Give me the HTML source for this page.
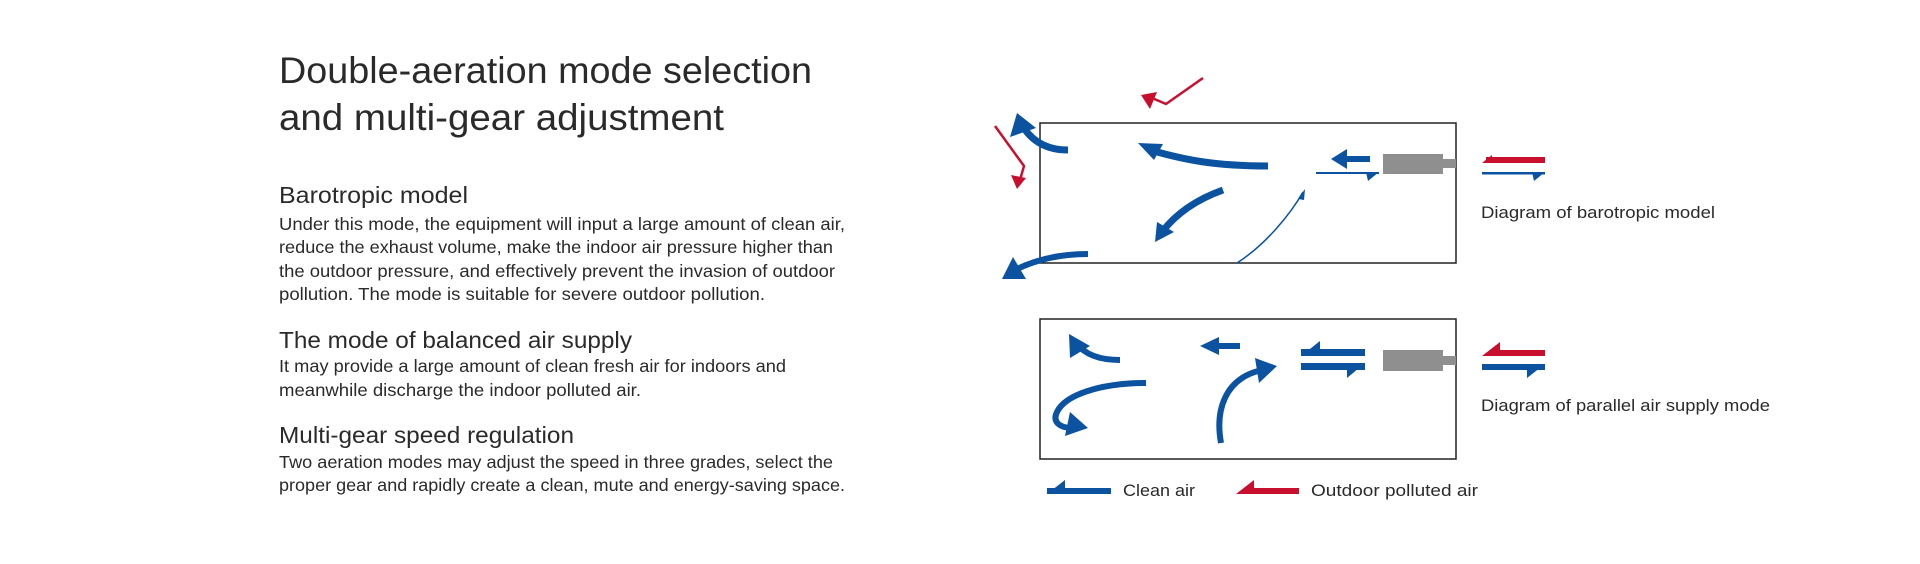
<!DOCTYPE html>
<html><head><meta charset="utf-8"><style>
html,body{margin:0;padding:0;background:#fff;}
svg{display:block;}
text{font-family:"Liberation Sans",sans-serif;fill:#2a2a2a;}
</style></head><body>
<svg width="1920" height="564" viewBox="0 0 1920 564" xmlns="http://www.w3.org/2000/svg">
<g>
<text x="279" y="83" font-size="37" textLength="533" lengthAdjust="spacingAndGlyphs">Double-aeration mode selection</text>
<text x="279" y="130" font-size="37" textLength="445" lengthAdjust="spacingAndGlyphs">and multi-gear adjustment</text>
<text x="279" y="203" font-size="23" textLength="189" lengthAdjust="spacingAndGlyphs">Barotropic model</text>
<text x="279" y="230" font-size="17.5" textLength="566" lengthAdjust="spacingAndGlyphs">Under this mode, the equipment will input a large amount of clean air,</text>
<text x="279" y="253" font-size="17.5" textLength="554" lengthAdjust="spacingAndGlyphs">reduce the exhaust volume, make the indoor air pressure higher than</text>
<text x="279" y="277" font-size="17.5" textLength="556" lengthAdjust="spacingAndGlyphs">the outdoor pressure, and effectively prevent the invasion of outdoor</text>
<text x="279" y="300" font-size="17.5" textLength="486" lengthAdjust="spacingAndGlyphs">pollution. The mode is suitable for severe outdoor pollution.</text>
<text x="279" y="348" font-size="23" textLength="353" lengthAdjust="spacingAndGlyphs">The mode of balanced air supply</text>
<text x="279" y="372" font-size="17.5" textLength="507" lengthAdjust="spacingAndGlyphs">It may provide a large amount of clean fresh air for indoors and</text>
<text x="279" y="396" font-size="17.5" textLength="362" lengthAdjust="spacingAndGlyphs">meanwhile discharge the indoor polluted air.</text>
<text x="279" y="443" font-size="23" textLength="295" lengthAdjust="spacingAndGlyphs">Multi-gear speed regulation</text>
<text x="279" y="468" font-size="17.5" textLength="554" lengthAdjust="spacingAndGlyphs">Two aeration modes may adjust the speed in three grades, select the</text>
<text x="279" y="491" font-size="17.5" textLength="566" lengthAdjust="spacingAndGlyphs">proper gear and rapidly create a clean, mute and energy-saving space.</text>

<text x="1481" y="218" font-size="17" textLength="234" lengthAdjust="spacingAndGlyphs">Diagram of barotropic model</text>
<text x="1481" y="411" font-size="17" textLength="289" lengthAdjust="spacingAndGlyphs">Diagram of parallel air supply mode</text>
<text x="1123" y="496" font-size="17" textLength="72" lengthAdjust="spacingAndGlyphs">Clean air</text>
<text x="1311" y="496" font-size="17" textLength="167" lengthAdjust="spacingAndGlyphs">Outdoor polluted air</text>
</g>

<rect x="1040" y="123" width="416" height="140" fill="none" stroke="#222" stroke-width="1.5"/>
<rect x="1040" y="319" width="416" height="140" fill="none" stroke="#222" stroke-width="1.5"/>
<rect x="1383" y="154" width="60" height="20" fill="#8f8f8f"/>
<rect x="1443" y="159" width="13" height="9" fill="#8f8f8f"/>
<rect x="1383" y="350" width="60" height="21" fill="#8f8f8f"/>
<rect x="1443" y="356" width="13" height="9" fill="#8f8f8f"/>

<g fill="#0b52a0" stroke="none">
<rect x="1343" y="156" width="27" height="6"/>
<polygon points="1331,159 1347,149 1347,169"/>
<rect x="1316" y="172" width="63" height="2"/>
<polygon points="1379,172 1368,181 1366,172"/>
<rect x="1482" y="172" width="63" height="2.5"/>
<polygon points="1545,172 1534,181 1532,172"/>
<polygon points="1138,143 1154,160 1163,144"/>
<polygon points="1017,113 1010,137 1036,128"/>
<polygon points="1155,242 1157,222 1174,232"/>
<polygon points="1002,279 1026,279 1013,257"/>
<polygon points="1305,189 1298,199 1304,200"/>
<polygon points="1069,334 1070,358 1090,346"/>
<rect x="1216" y="343" width="24" height="6"/>
<polygon points="1200,346 1219,337 1219,355"/>
<rect x="1301" y="349" width="64" height="7"/>
<polygon points="1301,356 1320,341 1320,356"/>
<rect x="1301" y="363" width="64" height="7"/>
<polygon points="1365,363 1347,378 1347,363"/>
<rect x="1482" y="364" width="63" height="6"/>
<polygon points="1545,364 1527,378 1527,364"/>
<polygon points="1065,436 1088,428 1070,412"/>
<polygon points="1277,366 1259,383 1255,358"/>
<rect x="1047" y="488" width="64" height="6"/>
<polygon points="1047,494 1065,480 1065,494"/>
</g>
<g fill="none" stroke="#0b52a0" stroke-linecap="butt">
<path d="M1268,166 C1215,166 1185,160 1150,150" stroke-width="7"/>
<path d="M1068,150 C1048,150 1032,142 1022,125" stroke-width="7"/>
<path d="M1223,190 C1195,200 1175,215 1162,232" stroke-width="7"/>
<path d="M1088,254 C1060,254 1035,260 1015,270" stroke-width="6"/>
<path d="M1237,263 C1265,245 1290,215 1303,192" stroke-width="1.5"/>
<path d="M1120,360 C1100,360 1085,355 1076,343" stroke-width="6"/>
<path d="M1146,383 C1100,383 1065,395 1057,412 C1052,422 1060,428 1072,428" stroke-width="6"/>
<path d="M1221,443 C1215,410 1225,378 1262,370" stroke-width="6"/>
</g>
<g fill="#c8102e" stroke="none">
<rect x="1486" y="157" width="59" height="6"/>
<polygon points="1482,163 1492,155 1492,163"/>
<polygon points="1482,356 1500,342 1500,356"/>
<rect x="1496" y="350" width="49" height="6"/>
<rect x="1248" y="488" width="51" height="6"/>
<polygon points="1236,494 1254,480 1254,494"/>
<polygon points="1011,175 1026,178 1017,189"/>
<polygon points="1141,95 1157,92 1150,109"/>
</g>
<g fill="none" stroke="#c8102e" stroke-width="2.5">
<polyline points="995,126 1024,166 1020,180"/>
<polyline points="1203,78 1166,104 1152,98"/>
</g>
</svg>
</body></html>
